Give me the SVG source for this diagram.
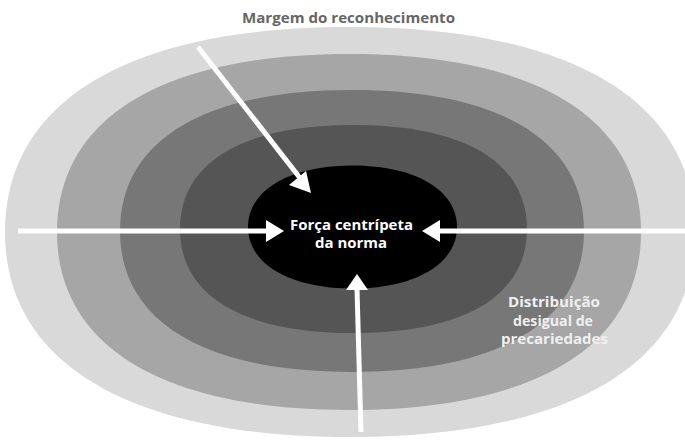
<svg xmlns="http://www.w3.org/2000/svg" width="685" height="442" viewBox="0 0 685 442">
<defs>
<style>
.lbl{font-family:"Open Sans","Noto Sans","Liberation Sans",sans-serif;font-weight:bold;font-size:14px;text-anchor:middle}
.conn{stroke:#ffffff;stroke-width:5;fill:none}
.head{fill:#ffffff}
</style>
</defs>
<rect width="685" height="442" fill="#ffffff"/>
<g id="ring1"><path fill="#d9d9d9" d="M5,232 C5,100.8 129.2,27 350,27 C570.8,27 695,100.8 695,232 C695,363.2 570.8,437 350,437 C129.2,437 5,363.2 5,232Z"/></g>
<g id="ring2"><path fill="#a6a6a6" d="M57,232 C57,118.1 162.1,54 349,54 C535.9,54 641,118.1 641,232 C641,345.9 535.9,410 349,410 C162.1,410 57,345.9 57,232Z"/></g>
<g id="ring3"><path fill="#777777" d="M120,231 C120,140.8 203.5,90 352,90 C500.5,90 584,140.8 584,231 C584,321.2 500.5,372 352,372 C203.5,372 120,321.2 120,231Z"/></g>
<g id="ring4"><path fill="#555555" d="M180,229 C180,162.4 242.5,125 353.5,125 C464.5,125 527,162.4 527,229 C527,295.6 464.5,333 353.5,333 C242.5,333 180,295.6 180,229Z"/></g>
<g id="core"><path fill="#000000" d="M248,227 C248,190.1 289.8,165.5 352.5,165.5 C415.2,165.5 457,190.1 457,227 C457,263.9 415.2,288.5 352.5,288.5 C289.8,288.5 248,263.9 248,227Z"/>
<text class="lbl" x="351.5" y="230" fill="#ffffff" textLength="123" lengthAdjust="spacingAndGlyphs">Força centrípeta</text>
<text class="lbl" x="351" y="248" fill="#ffffff" textLength="72" lengthAdjust="spacingAndGlyphs">da norma</text>
</g>
<g id="margem"><text class="lbl" x="348.5" y="23" fill="#666666" textLength="213" lengthAdjust="spacingAndGlyphs">Margem do reconhecimento</text></g>
<g id="distribuicao">
<text class="lbl" x="554" y="307" fill="#f0f0f0" textLength="92" lengthAdjust="spacingAndGlyphs">Distribuição</text>
<text class="lbl" x="553" y="325.5" fill="#f0f0f0" textLength="80" lengthAdjust="spacingAndGlyphs">desigual de</text>
<text class="lbl" x="554.5" y="344" fill="#f0f0f0" textLength="107" lengthAdjust="spacingAndGlyphs">precariedades</text>
</g>
<g id="connectors">
<line class="conn" x1="198" y1="47" x2="300" y2="178"/>
<polygon class="head" points="311,193 289,185 306,171"/>
<line class="conn" x1="18" y1="231" x2="268" y2="231"/>
<polygon class="head" points="284,231 266,220 266,242"/>
<line class="conn" x1="685" y1="231" x2="438" y2="231"/>
<polygon class="head" points="422,231 440,220 440,242"/>
<line class="conn" x1="361" y1="432" x2="357" y2="289"/>
<polygon class="head" points="357,274 346,290 368,290"/>
</g>
</svg>
